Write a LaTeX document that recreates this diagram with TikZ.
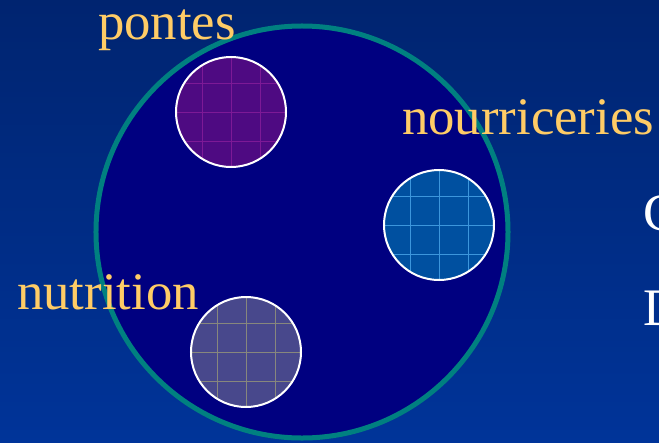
\documentclass[tikz,border=0pt]{standalone}
\usepackage{fontspec}
\setmainfont{Liberation Serif}
\usepackage{tikz}
\usetikzlibrary{positioning}

\definecolor{bgtop}{RGB}{0,36,112}
\definecolor{bgbot}{RGB}{0,52,153}
\definecolor{navy}{RGB}{0,0,128}
\definecolor{ringteal}{RGB}{0,128,128}
\definecolor{labelgold}{RGB}{255,204,102}
\definecolor{pontesfill}{RGB}{78,10,130}
\definecolor{pontesgrid}{RGB}{125,25,150}
\definecolor{nourrfill}{RGB}{0,80,160}
\definecolor{nourrgrid}{RGB}{60,150,220}
\definecolor{nutrfill}{RGB}{72,72,140}
\definecolor{nutrgrid}{RGB}{135,135,125}

\begin{document}
\begin{tikzpicture}[
        x=0.03cm, y=-0.03cm,
        spot/.style={circle, draw=white, line width=0.06cm, minimum size=3.3cm, inner sep=0pt,
            path picture={
                \foreach \d in {-29,0,29} {
                    \draw[#1, line width=0.02cm] ([xshift=\d*0.03cm]path picture bounding box.north) -- ([xshift=\d*0.03cm]path picture bounding box.south);
                    \draw[#1, line width=0.02cm] ([yshift=\d*0.03cm]path picture bounding box.west) -- ([yshift=\d*0.03cm]path picture bounding box.east);
                }
            }},
        lbl/.style={anchor=base west, inner sep=0pt, text=labelgold, font=\fontsize{45}{45}\selectfont},
        side/.style={anchor=base west, inner sep=0pt, text=white, font=\fontsize{45}{45}\selectfont},
    ]
        \useasboundingbox (0,0) rectangle (659,443);
        \shade[top color=bgtop, bottom color=bgbot] (0,0) rectangle (659,443);
        % the big ring
        \node[circle, fill=navy, draw=ringteal, line width=0.15cm, minimum size=12.36cm, inner sep=0pt] (ring) at (302,232) {};
        % the three spots
        \node[spot=pontesgrid, fill=pontesfill] (pontes) at (231,112) {};
        \node[spot=nourrgrid, fill=nourrfill] (nourr) at (439,225) {};
        \node[spot=nutrgrid, fill=nutrfill] (nutr) at (246,352) {};
        % labels
        \node[lbl] (lpontes) at (98,39) {pontes};
        \node[lbl] (lnourr) at (402,134) {nourriceries};
        \node[lbl] (lnutr) at (17,309) {nutrition};
        \node[side] (sidec) at (643,230) {C};
        \node[side] (sided) at (643,325) {D};
\end{tikzpicture}
\end{document}
